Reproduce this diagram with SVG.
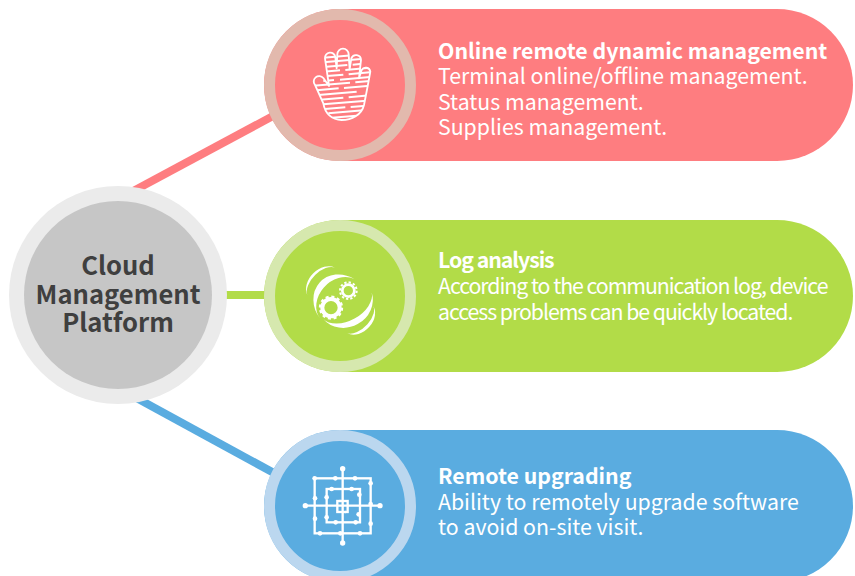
<svg xmlns="http://www.w3.org/2000/svg" width="855" height="576" viewBox="0 0 855 576">
<style>
text{font-family:"Noto Sans CJK SC","Noto Sans",sans-serif;fill:#fff;font-size:21.3px}
.t{font-weight:700}
.c{fill:#3f3f3f;font-weight:700;font-size:25.6px;text-anchor:middle}
.w{fill:none;stroke:#fff;stroke-width:5.500;stroke-linecap:round;stroke-linejoin:round}
.d{fill:#fff}
.n{letter-spacing:-1.05px}
</style>
<defs>
<clipPath id="hand"><path d="M195 175A15 15 0 0 1 226 172L230 205L232 163A17 17 0 0 1 266 163L269 208L274 175A15 15 0 0 1 303 180L297 235L305 210A14 14 0 0 1 331 215C325 250 318 285 312 315C305 345 275 360 245 360C215 360 195 340 190 310L165 255A15 15 0 0 1 190 234L207 258Z"/></clipPath>
</defs>
<g id="connectors" fill="none" stroke-width="8">
<line x1="124" y1="196" x2="285" y2="109.600" stroke="#fe7d80"/>
<line x1="200" y1="295" x2="285" y2="295" stroke="#b2dc48"/>
<line x1="120" y1="389" x2="285" y2="479" stroke="#5aace0"/>
</g>
<g id="center">
<circle cx="118" cy="295" r="109" fill="#ebebeb"/>
<circle cx="118" cy="295" r="94" fill="#c6c6c6"/>
<text class="c" x="118" y="275">Cloud</text>
<text class="c" x="118" y="304">Management</text>
<text class="c" x="118" y="332">Platform</text>
</g>
<g id="node-online">
<rect x="264" y="9" width="589" height="152" rx="76" fill="#fe7d80"/>
<circle cx="340" cy="85" r="70.500" fill="none" stroke="#e2b9ad" stroke-width="11"/>
<g transform="translate(260 0) scale(.3333)">
<g clip-path="url(#hand)" fill="none" stroke="#fff" stroke-width="6">
<path d="M190 173L330 161M190 187L330 175M190 201L262 195M278 194L330 189M190 215L240 211M256 210L330 203M190 229L250 224M266 223L330 217M190 243L222 240M240 239L330 231M160 257L270 248M286 247L330 243M170 271L236 265M252 264L330 257M175 285L290 275M180 299L250 293M266 292L330 286M190 313L320 302M195 327L256 322M272 321L320 317M205 340L310 331M215 353L290 347"/>
</g>
<path class="w" d="M195 175A15 15 0 0 1 226 172L230 205L232 163A17 17 0 0 1 266 163L269 208L274 175A15 15 0 0 1 303 180L297 235L305 210A14 14 0 0 1 331 215C325 250 318 285 312 315C305 345 275 360 245 360C215 360 195 340 190 310L165 255A15 15 0 0 1 190 234L207 258Z"/>
</g>
<text class="t" x="438" y="59">Online remote dynamic management</text>
<text x="438" y="84">Terminal online/offline management.</text>
<text x="438" y="110">Status management.</text>
<text x="438" y="135">Supplies management.</text>
</g>
<g id="node-log">
<rect x="264" y="220" width="589" height="152" rx="76" fill="#b2dc48"/>
<circle cx="340" cy="296" r="70.500" fill="none" stroke="#d6e8ae" stroke-width="11"/>
<g transform="translate(260 215) scale(.3333)">
<path class="d" d="M180 310A90 80 45 0 1 283 192A65 80 45 0 0 180 310Z"/>
<path class="d" d="M335 232A76 84 61 0 1 190 312A53 84 61 0 0 335 232Z"/>
<path class="d" d="M142 240A44 60 45 0 1 225 158A34 60 45 0 0 142 240Z"/>
<path class="d" d="M338 270A44 58 45 0 1 262 355A32 58 45 0 0 338 270Z"/>
<circle cx="213" cy="278" r="26" fill="none" stroke="#fff" stroke-width="12"/>
<circle cx="213" cy="278" r="33" fill="none" stroke="#fff" stroke-width="7" stroke-dasharray="9 8.280"/>
<circle cx="265" cy="227" r="18" fill="none" stroke="#fff" stroke-width="8"/>
<circle cx="265" cy="227" r="25" fill="none" stroke="#fff" stroke-width="6" stroke-dasharray="7 6.090"/>
</g>
<text class="t n" x="438" y="268">Log analysis</text>
<text class="n" x="438" y="294">According to the communication log, device</text>
<text class="n" x="438" y="320">access problems can be quickly located.</text>
</g>
<g id="node-upgrade">
<rect x="264" y="430" width="589" height="152" rx="76" fill="#5aace0"/>
<circle cx="340" cy="506" r="70.500" fill="none" stroke="#bbd7ef" stroke-width="11"/>
<g transform="translate(260 425) scale(.3333)">
<g fill="none" stroke="#fff" stroke-width="7">
<rect x="164" y="160" width="168" height="165"/>
<rect x="200" y="192" width="100" height="100"/>
<rect x="232" y="228" width="31" height="33"/>
<path d="M248 132V354M137 242H360"/>
</g>
<g class="d">
<circle cx="248" cy="131" r="8"/><circle cx="248" cy="354" r="8"/><circle cx="136" cy="242" r="8"/><circle cx="360" cy="242" r="8"/>
<circle cx="164" cy="160" r="7"/><circle cx="226" cy="160" r="7"/><circle cx="285" cy="160" r="7"/><circle cx="332" cy="175" r="7"/><circle cx="332" cy="237" r="7"/><circle cx="332" cy="296" r="7"/><circle cx="300" cy="325" r="7"/><circle cx="241" cy="325" r="7"/><circle cx="180" cy="325" r="7"/><circle cx="165" cy="281" r="7"/><circle cx="165" cy="220" r="7"/>
<circle cx="215" cy="192" r="7"/><circle cx="275" cy="192" r="7"/><circle cx="298" cy="209" r="7"/><circle cx="296" cy="268" r="7"/><circle cx="287" cy="292" r="7"/><circle cx="227" cy="292" r="7"/><circle cx="200" cy="277" r="7"/><circle cx="200" cy="217" r="7"/>
<circle cx="240" cy="228" r="4"/><circle cx="256" cy="261" r="4"/>
</g>
</g>
<text class="t" x="438" y="484">Remote upgrading</text>
<text x="438" y="510">Ability to remotely upgrade software</text>
<text x="438" y="535">to avoid on-site visit.</text>
</g>
</svg>
